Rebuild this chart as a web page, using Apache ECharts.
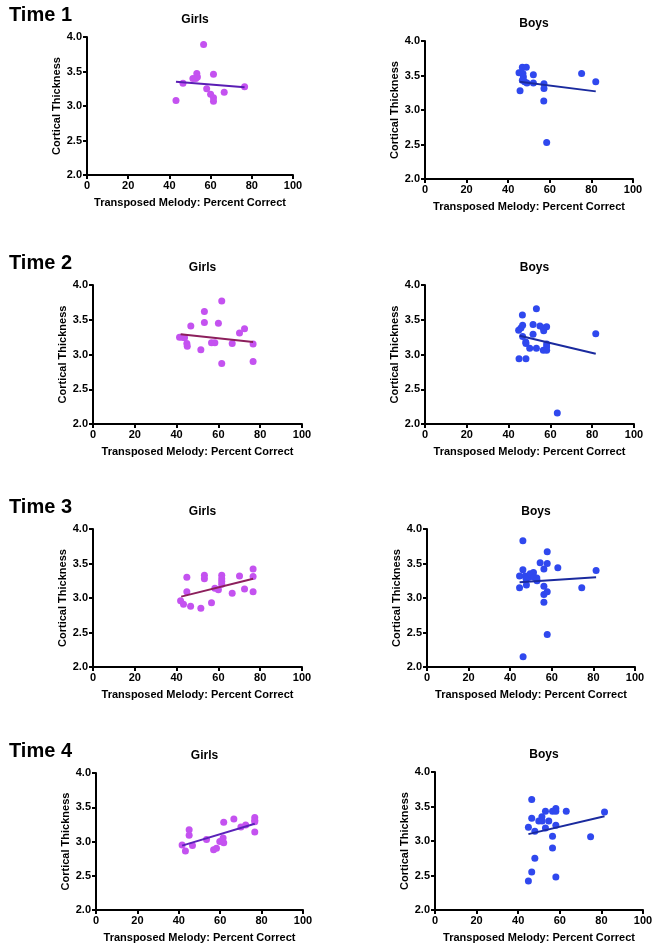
<!DOCTYPE html>
<html>
<head>
<meta charset="utf-8">
<style>
  html, body { margin: 0; padding: 0; background: #fff; }
  #chart { width: 658px; height: 944px; }
</style>
<script src="https://cdn.jsdelivr.net/npm/echarts@6/dist/echarts.min.js"></script>
</head>
<body>
<div id="chart"></div>
<script>
// 数据: [Transposed Melody %, Cortical Thickness]
const t1Girls = [[43.2, 3.08], [46.6, 3.33], [51.4, 3.40], [52.8, 3.40], [53.3, 3.47], [53.6, 3.42], [56.6, 3.89],
  [58.1, 3.25], [60.0, 3.17], [61.4, 3.46], [61.4, 3.12], [61.4, 3.07], [66.6, 3.20], [76.5, 3.28]]
const t1GirlsFit = [[43.2, 3.35], [76.5, 3.27]]
const t1Boys = [[45.2, 3.54], [45.7, 3.28], [46.2, 3.54], [46.8, 3.62], [47.1, 3.53], [47.3, 3.48], [46.8, 3.43],
  [47.9, 3.41], [48.7, 3.62], [49.0, 3.39], [52.1, 3.51], [52.1, 3.39], [57.2, 3.38], [57.2, 3.31], [57.1, 3.13],
  [58.5, 2.53], [75.3, 3.53], [82.1, 3.41]]
const t1BoysFit = [[45.5, 3.41], [82.1, 3.27]]

const t2Girls = [[41.4, 3.25], [42.7, 3.25], [43.8, 3.24], [44.9, 3.16], [45.1, 3.12], [46.8, 3.41], [51.6, 3.07],
  [53.3, 3.62], [53.3, 3.46], [56.7, 3.17], [58.3, 3.17], [60.0, 3.45], [61.6, 3.77], [61.6, 2.87], [66.6, 3.16],
  [70.1, 3.31], [72.5, 3.37], [76.6, 3.15], [76.6, 2.90]]
const t2GirlsFit = [[41.9, 3.29], [76.6, 3.18]]
const t2Boys = [[44.8, 3.35], [45.0, 2.94], [45.9, 3.38], [46.6, 3.57], [46.7, 3.42], [46.7, 3.26], [48.2, 3.18],
  [48.3, 3.16], [48.3, 2.94], [50.1, 3.09], [51.7, 3.43], [51.7, 3.29], [53.3, 3.66], [53.3, 3.09], [55.0, 3.41],
  [56.6, 3.38], [56.8, 3.34], [58.2, 3.40], [58.2, 3.15], [58.2, 3.11], [56.6, 3.06], [58.2, 3.06], [63.3, 2.16],
  [81.7, 3.30]]
const t2BoysFit = [[45.3, 3.27], [81.7, 3.01]]

const t3Girls = [[41.9, 2.96], [43.3, 2.91], [44.9, 3.30], [44.9, 3.09], [46.7, 2.88], [51.6, 2.85], [53.3, 3.33],
  [53.3, 3.28], [56.7, 2.93], [58.3, 3.14], [60.0, 3.12], [61.6, 3.33], [61.6, 3.28], [61.6, 3.24], [61.6, 3.20],
  [66.6, 3.07], [70.1, 3.32], [72.5, 3.13], [76.6, 3.42], [76.6, 3.31], [76.6, 3.09]]
const t3GirlsFit = [[42.2, 3.02], [76.6, 3.28]]
const t3Boys = [[44.5, 3.32], [44.5, 3.15], [46.1, 3.83], [46.1, 3.41], [46.2, 2.15], [47.2, 3.32], [47.7, 3.27],
  [47.8, 3.19], [49.0, 3.30], [49.6, 3.35], [51.2, 3.37], [51.5, 3.30], [52.8, 3.29], [52.9, 3.25], [54.4, 3.51],
  [56.2, 3.42], [56.2, 3.17], [56.2, 3.05], [56.2, 2.94], [57.8, 3.67], [57.8, 3.50], [57.8, 3.09], [57.8, 2.47],
  [62.9, 3.44], [74.4, 3.15], [81.3, 3.40]]
const t3BoysFit = [[44.5, 3.23], [81.3, 3.30]]

const t4Girls = [[41.6, 2.95], [43.2, 2.86], [45.0, 3.17], [45.0, 3.09], [46.6, 2.94], [53.4, 3.03], [56.8, 2.88],
  [58.2, 2.90], [59.8, 3.00], [61.4, 3.05], [61.7, 2.98], [61.7, 3.28], [66.6, 3.33], [70.0, 3.21], [72.3, 3.24],
  [76.7, 3.35], [76.7, 3.31], [76.7, 3.29], [76.7, 3.14]]
const t4GirlsFit = [[41.6, 2.94], [76.7, 3.26]]
const t4Boys = [[44.9, 2.42], [44.9, 3.20], [46.5, 3.60], [46.5, 3.33], [46.5, 2.55], [48.0, 3.14], [48.0, 2.75],
  [49.9, 3.29], [51.4, 3.35], [51.5, 3.29], [53.1, 3.43], [53.1, 3.19], [54.7, 3.29], [56.5, 3.43], [56.5, 3.07],
  [56.5, 2.90], [58.1, 3.47], [58.1, 3.43], [58.1, 3.23], [58.1, 2.48], [63.1, 3.43], [74.8, 3.06], [81.5, 3.42]]
const t4BoysFit = [[44.9, 3.10], [81.5, 3.36]]

const timeLabels = ['Time 1', 'Time 2', 'Time 3', 'Time 4']
const xName = 'Transposed Melody: Percent Correct'
const yName = 'Cortical Thickness'

const FONT = '"Liberation Sans", Arial, sans-serif'
const GIRL_DOT = '#c452f0'
const BOY_DOT = '#2f48ee'
const BOY_LINE = '#1a2a9e'

// 每个面板: 网格位置、数据、颜色
const panels = [
  { title: 'Girls', grid: [87, 37, 206, 138], pts: t1Girls, fit: t1GirlsFit, dot: GIRL_DOT, line: '#5a1db4' },
  { title: 'Boys', grid: [425, 41, 208, 138], pts: t1Boys, fit: t1BoysFit, dot: BOY_DOT, line: BOY_LINE },
  { title: 'Girls', grid: [93, 285, 209, 139], pts: t2Girls, fit: t2GirlsFit, dot: GIRL_DOT, line: '#8c1f5c' },
  { title: 'Boys', grid: [425, 285, 209, 139], pts: t2Boys, fit: t2BoysFit, dot: BOY_DOT, line: BOY_LINE },
  { title: 'Girls', grid: [93, 529, 209, 138], pts: t3Girls, fit: t3GirlsFit, dot: GIRL_DOT, line: '#8c1f5c' },
  { title: 'Boys', grid: [427, 529, 208, 138], pts: t3Boys, fit: t3BoysFit, dot: BOY_DOT, line: BOY_LINE },
  { title: 'Girls', grid: [96, 773, 207, 138], pts: t4Girls, fit: t4GirlsFit, dot: GIRL_DOT, line: '#5a22b8' },
  { title: 'Boys', grid: [435, 772, 208, 138], pts: t4Boys, fit: t4BoysFit, dot: BOY_DOT, line: BOY_LINE }
]

const textBase = { color: '#000', fontFamily: FONT, fontWeight: 'bold', fontSize: 11 }
const axisLine = { show: true, lineStyle: { color: '#000', width: 2 } }
const axisTick = { show: true, length: 4, lineStyle: { color: '#000', width: 2 } }

const title = []
const grid = []
const xAxis = []
const yAxis = []
const series = []

panels.forEach((p, i) => {
  const [left, top, width, height] = p.grid
  title.push({
    text: p.title,
    left: left + width / 2,
    top: top - 28,
    textAlign: 'center',
    textStyle: { ...textBase, fontSize: 12 }
  })
  grid.push({ left, top, width, height, containLabel: false })
  xAxis.push({
    gridIndex: i,
    type: 'value',
    min: 0,
    max: 100,
    interval: 20,
    name: xName,
    nameLocation: 'middle',
    nameGap: 22,
    nameTextStyle: { ...textBase, verticalAlign: 'top' },
    axisLine,
    axisTick,
    axisLabel: { ...textBase, margin: 5 },
    splitLine: { show: false }
  })
  yAxis.push({
    gridIndex: i,
    type: 'value',
    min: 2,
    max: 4,
    interval: 0.5,
    name: yName,
    nameLocation: 'middle',
    nameGap: 25,
    nameTextStyle: textBase,
    axisLine,
    axisTick,
    axisLabel: { ...textBase, margin: 5, formatter: (v) => v.toFixed(1) },
    splitLine: { show: false }
  })
  series.push({
    type: 'scatter',
    xAxisIndex: i,
    yAxisIndex: i,
    data: p.pts,
    symbolSize: 7,
    itemStyle: { color: p.dot, opacity: 1 },
    z: 3
  })
  series.push({
    type: 'line',
    xAxisIndex: i,
    yAxisIndex: i,
    data: p.fit,
    symbol: 'none',
    lineStyle: { color: p.line, width: 2 },
    z: 4
  })
})

// "Time N" 行标签
const timeTops = [0, 248, 492, 736]
timeLabels.forEach((t, i) => {
  title.push({
    text: t,
    left: 4,
    top: timeTops[i],
    textStyle: { color: '#000', fontFamily: FONT, fontWeight: 'bold', fontSize: 20 }
  })
})

const myChart = echarts.init(document.getElementById('chart'), null, { renderer: 'canvas' })
myChart.setOption({
  animation: false,
  backgroundColor: '#fff',
  title,
  grid,
  xAxis,
  yAxis,
  series
})
</script>
</body>
</html>
